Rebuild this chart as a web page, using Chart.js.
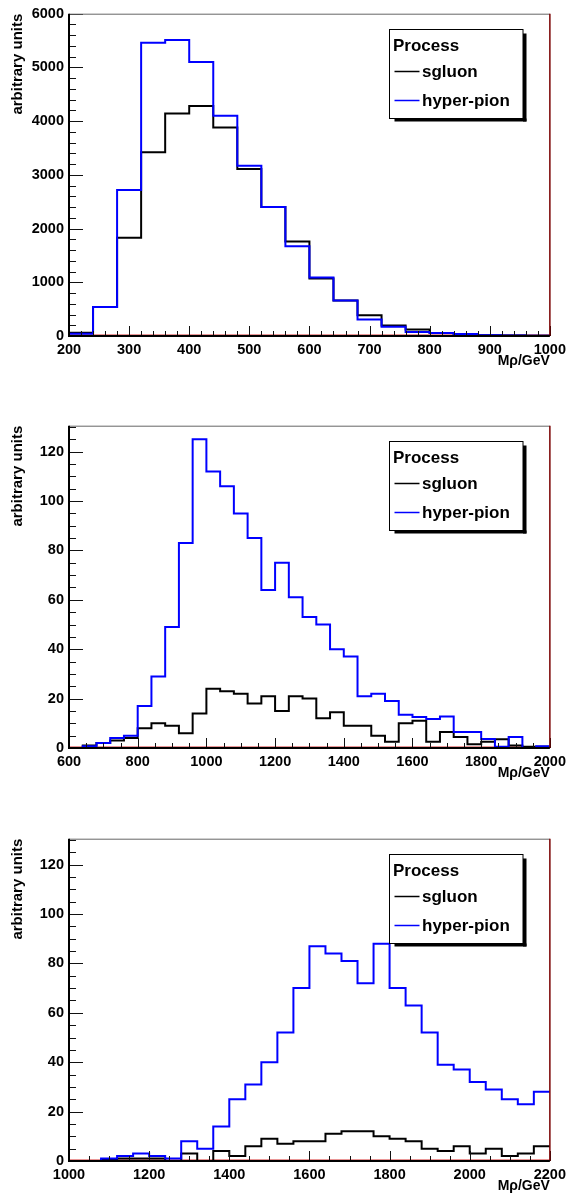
<!DOCTYPE html>
<html>
<head>
<meta charset="utf-8">
<script src="https://cdn.jsdelivr.net/npm/chart.js@4.4.1/dist/chart.umd.min.js"></script>
<style>
  html, body { margin: 0; padding: 0; background: #fff; }
  body { width: 571px; height: 1198px; position: relative; overflow: hidden; }
  .panel { position: absolute; left: 0; width: 571px; height: 373px; }
</style>
</head>
<body>
<div class="panel" style="top:0px"><canvas id="c1" width="571" height="373"></canvas></div>
<div class="panel" style="top:412px"><canvas id="c2" width="571" height="373"></canvas></div>
<div class="panel" style="top:825px"><canvas id="c3" width="571" height="373"></canvas></div>
<script>
// Panel 1: 200-1000 GeV, 40 GeV bins
const binStart1 = 200;
const binWidth1 = 40;
const sgluon1 = [60, 540, 1830, 3420, 4140, 4280, 3880, 3110, 2400, 1760, 1070, 660, 384, 195, 122, 55, 25, 12, 8, 5];
const hyper1  = [40, 540, 2720, 5460, 5510, 5100, 4100, 3170, 2400, 1670, 1090, 660, 305, 170, 75, 55, 37, 15, 8, 5];

// Panel 2: 600-2000 GeV
const binStart2 = 600;
const binWidth2 = 40;
const sgluon2 = [0, 1, 2, 3, 4, 8, 10, 9, 6, 14, 24, 23, 22, 18, 21, 15, 21, 20, 12, 14.5,
                 9, 9, 5, 2.5, 10, 11, 2.5, 6.5, 4.5, 1.5, 2.5, 3.5, 1, 0.5, 0.5];
const hyper2  = [0, 0.7, 2, 4, 5, 17, 29, 49, 83, 125, 112, 106, 95, 85, 64, 75, 61, 53, 50, 40,
                 37, 21, 22, 19, 13.5, 12.6, 11.7, 12.8, 6.5, 6.5, 3.6, 0.5, 4.5, 0, 0.7];

// Panel 3: 1000-2200 GeV
const binStart3 = 1000;
const binWidth3 = 40;
const sgluon3 = [0, 0, 0.5, 1, 1, 1, 0, 3, 0, 4, 2, 6, 9, 7, 8, 8, 11, 12, 12, 10,
                 9, 8, 5, 4, 6, 3, 5, 2, 3, 6];
const hyper3  = [0, 0, 1, 2, 3, 2, 1, 8, 5, 14, 25, 31, 40, 52, 70, 87, 84, 81, 72, 88,
                 70, 63, 52, 39, 37, 32, 29, 25, 23, 28];

const seriesNames = ["sgluon", "hyper-pion"];
const legendTitle = "Process";
const yTitle = "arbitrary units";
const xTitle = "M\u03c1/GeV";

const FONT = '"Liberation Sans", Arial, Helvetica, sans-serif';

// turn bin contents into step points (left edges + closing right edge)
function toSteps(start, width, vals){
    const pts = vals.map((v,i)=>({x: start + i*width, y: v}));
    pts.push({x: start + vals.length*width, y: vals[vals.length-1]});
    return pts;
}

// ROOT-like frame, inner ticks and legend box
const rootStyle = {
    id: 'rootStyle',
    beforeDatasetsDraw(chart){
        const {ctx, chartArea: a} = chart;
        ctx.save();
        ctx.strokeStyle = 'rgba(220,80,80,0.6)';
        ctx.lineWidth = 1;
        ctx.beginPath();
        ctx.moveTo(a.left, a.bottom - 1.5);
        ctx.lineTo(a.right, a.bottom - 1.5);
        ctx.stroke();
        ctx.restore();
    },
    afterDraw(chart){
        const {ctx, chartArea: a, scales} = chart;
        const o = chart.options.plugins.rootStyle;
        const x = scales.x, y = scales.y;
        ctx.save();

        // inner ticks
        ctx.strokeStyle = '#111';
        ctx.lineWidth = 1;
        ctx.beginPath();
        for (let v = y.min; v <= y.max + 1e-9; v += o.yMinor){
            const py = Math.round(y.getPixelForValue(v)) + 0.5;
            const r = v / o.yMajor;
            const len = Math.abs(r - Math.round(r)) < 1e-6 ? 14 : 7;
            ctx.moveTo(a.left, py);
            ctx.lineTo(a.left + len, py);
        }
        for (let v = x.min; v <= x.max + 1e-9; v += o.xMinor){
            const px = Math.round(x.getPixelForValue(v)) + 0.5;
            const r = v / o.xMajor;
            const len = Math.abs(r - Math.round(r)) < 1e-6 ? 10 : 5;
            ctx.moveTo(px, a.bottom);
            ctx.lineTo(px, a.bottom - len);
        }
        ctx.stroke();

        // frame
        ctx.lineWidth = 1;
        ctx.strokeStyle = '#666';
        ctx.beginPath();
        ctx.moveTo(a.left, a.top + 0.5);
        ctx.lineTo(a.right, a.top + 0.5);
        ctx.stroke();
        ctx.strokeStyle = '#7a0000';
        ctx.lineWidth = 1.5;
        ctx.beginPath();
        ctx.moveTo(a.right, a.top);
        ctx.lineTo(a.right, a.bottom);
        ctx.stroke();
        ctx.strokeStyle = '#000';
        ctx.lineWidth = 2;
        ctx.beginPath();
        ctx.moveTo(a.left, a.top);
        ctx.lineTo(a.left, a.bottom);
        ctx.lineTo(a.right, a.bottom);
        ctx.stroke();

        // legend
        const bx = 389.5, by = 29.5, bw = 133.5, bh = 89;
        ctx.fillStyle = '#000';
        ctx.fillRect(bx + bw, by + 4, 3.5, bh - 1);
        ctx.fillRect(bx + 5, by + bh, bw - 1.5, 3);
        ctx.fillStyle = '#fff';
        ctx.fillRect(bx, by, bw, bh);
        ctx.strokeStyle = '#000';
        ctx.lineWidth = 1;
        ctx.strokeRect(bx, by, bw, bh);

        ctx.fillStyle = '#000';
        ctx.font = 'bold 17px ' + FONT;
        ctx.textBaseline = 'middle';
        ctx.textAlign = 'left';
        ctx.fillText(legendTitle, bx + 3.5, by + 16.5);
        chart.data.datasets.forEach((ds, i)=>{
            const ly = by + 42 + i*29;
            ctx.strokeStyle = ds.borderColor;
            ctx.lineWidth = 1.5;
            ctx.beginPath();
            ctx.moveTo(bx + 5, ly);
            ctx.lineTo(bx + 30, ly);
            ctx.stroke();
            ctx.fillStyle = '#000';
            ctx.fillText(ds.label, bx + 32.5, ly + 1);
        });
        ctx.restore();
    }
};

function makeChart(id, start, width, black, blue, xMin, xMax, xMajor, xMinor, yMax, yMajor, yMinor){
    return new Chart(document.getElementById(id), {
        type: 'line',
        data: {
            datasets: [
                {label: seriesNames[0], data: toSteps(start, width, black), borderColor: '#000000',
                 borderWidth: 2, stepped: 'before', pointRadius: 0, fill: false, order: 1},
                {label: seriesNames[1], data: toSteps(start, width, blue), borderColor: '#0000ff',
                 borderWidth: 2, stepped: 'before', pointRadius: 0, fill: false, order: 0}
            ]
        },
        options: {
            animation: false,
            responsive: false,
            layout: {padding: {top: 8, right: 18.5, left: 0, bottom: 0}},
            plugins: {
                legend: {display: false},
                tooltip: {enabled: false},
                rootStyle: {xMajor, xMinor, yMajor, yMinor}
            },
            scales: {
                x: {
                    type: 'linear', min: xMin, max: xMax,
                    grid: {display: false, drawTicks: false},
                    border: {display: false},
                    ticks: {stepSize: xMajor, color: '#000', padding: 5, maxRotation: 0,
                            autoSkip: false, includeBounds: false,
                            callback: v => String(v),
                            font: {family: FONT, size: 14.5, weight: 'bold'}},
                    title: {display: true, text: xTitle, align: 'end', color: '#000',
                            padding: {top: 0, bottom: 3},
                            font: {family: FONT, size: 14, weight: 'bold'}},
                    afterFit: s => { s.height = 37; }
                },
                y: {
                    min: 0, max: yMax,
                    grid: {display: false, drawTicks: false},
                    border: {display: false},
                    ticks: {stepSize: yMajor, color: '#000', padding: 5, includeBounds: false,
                            callback: v => String(v),
                            font: {family: FONT, size: 14.5, weight: 'bold'}},
                    title: {display: true, text: yTitle, align: 'end', color: '#000',
                            padding: {top: 9, bottom: 0},
                            font: {family: FONT, size: 15, weight: 'bold'}},
                    afterFit: s => { s.width = 69; }
                }
            }
        },
        plugins: [rootStyle]
    });
}

makeChart('c1', binStart1, binWidth1, sgluon1, hyper1, 200, 1000, 100, 20, 6000, 1000, 200);
makeChart('c2', binStart2, binWidth2, sgluon2, hyper2, 600, 2000, 200, 50, 130.5, 20, 5);
makeChart('c3', binStart3, binWidth3, sgluon3, hyper3, 1000, 2200, 200, 50, 130.5, 20, 5);
</script>
</body>
</html>
